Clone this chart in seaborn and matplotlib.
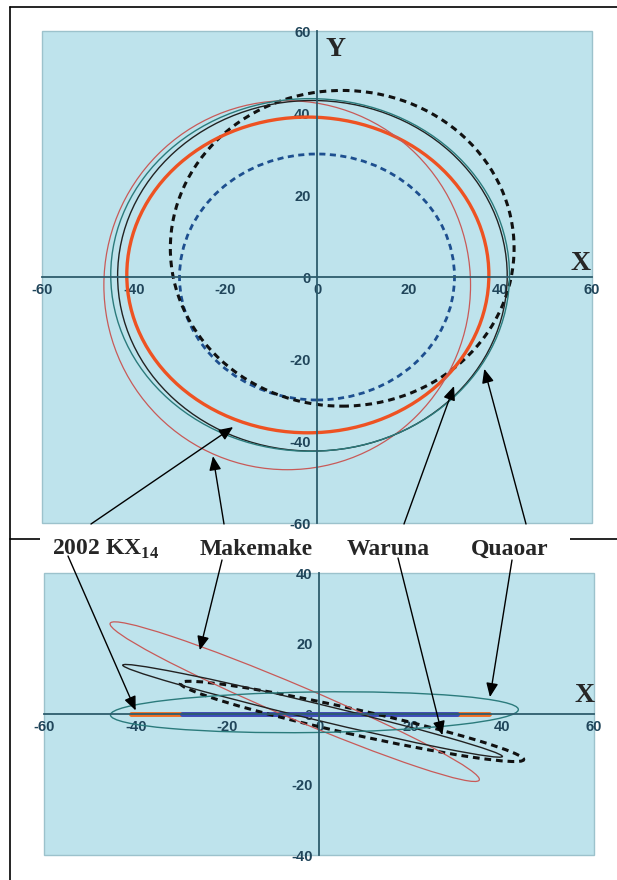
import matplotlib
matplotlib.use('Agg')
import matplotlib.pyplot as plt
from matplotlib.patches import Ellipse, Rectangle, ConnectionPatch
from matplotlib.lines import Line2D
import seaborn as sns

# orbit outlines, in AU
# top view (X-Y plane): centre, full width, full height
top_names = ['Neptune', 'Pluto', '2002 KX14', 'Makemake', 'Varuna', 'Quaoar']
top_cx = [0.0, 5.5, -2.0, -6.5, -1.0, -1.5]
top_cy = [0.0, 7.0, 0.5, -2.0, 0.3, 0.5]
top_w = [60.0, 75.0, 79.0, 80.0, 85.0, 87.0]
top_h = [60.0, 77.0, 77.0, 90.0, 85.5, 86.0]

# side view (X-Z plane): tilted narrow ellipses
side_names = ['Pluto', 'Makemake', 'Varuna', 'Quaoar']
side_cx = [7.2, -5.3, -1.4, -1.0]
side_cy = [-2.1, 3.5, 0.9, 0.5]
side_w = [78.0, 92.0, 86.8, 89.0]
side_h = [7.0, 9.0, 4.5, 11.5]
side_tilt = [-16.2, -29.0, -17.4, 1.0]

# nearly flat orbits in the side view
kx14_side_x = [-41.0, 37.0]
kx14_side_y = [0.0, 0.0]
neptune_side_x = [-30.0, 30.0]
neptune_side_y = [0.0, 0.0]

# arrow targets (data coords) for each label: top panel / bottom panel
labels = ['2002 KX$_{\\mathbf{14}}$', 'Makemake', 'Waruna', 'Quaoar']
arrow_top_x = [-18.3, -22.7, 29.9, 36.5]
arrow_top_y = [-36.6, -43.7, -26.6, -22.4]
arrow_bot_x = [-40.0, -26.0, 26.9, 37.3]
arrow_bot_y = [1.0, 18.1, -6.0, 4.8]

x_ticks = [-60, -40, -20, 0, 20, 40, 60]
top_y_ticks = [-60, -40, -20, 0, 20, 40, 60]
bot_y_ticks = [-40, -20, 0, 20, 40]

styles = {
    'Neptune':   dict(color='#1d4f8f', lw=2.0, ls=(0, (2.2, 1.6))),
    'Pluto':     dict(color='#111111', lw=2.2, ls=(0, (2.2, 1.6))),
    '2002 KX14': dict(color='#ee5222', lw=2.4, ls='-'),
    'Makemake':  dict(color='#c85a58', lw=0.9, ls='-'),
    'Varuna':    dict(color='#222222', lw=1.0, ls='-'),
    'Quaoar':    dict(color='#2b7b7c', lw=1.0, ls='-'),
}

PANEL = '#bee3ec'
AXIS = '#2d5c6c'
TICK = '#20455a'
W, H = 617, 880

sns.set_style('white')
plt.rcParams['font.family'] = ['Liberation Sans', 'DejaVu Sans']
plt.rcParams['axes.unicode_minus'] = False
plt.rcParams['mathtext.fontset'] = 'custom'
plt.rcParams['mathtext.rm'] = 'Liberation Serif'
plt.rcParams['mathtext.bf'] = 'Liberation Serif:bold'


def style_axes(ax, ylim, yticks):
    ax.set_facecolor(PANEL)
    ax.patch.set_edgecolor('#9cc2cc')
    ax.patch.set_linewidth(1.0)
    ax.set_xlim(-60, 60)
    ax.set_ylim(*ylim)
    for s in ['top', 'right']:
        ax.spines[s].set_visible(False)
    for s in ['left', 'bottom']:
        ax.spines[s].set_position('zero')
        ax.spines[s].set_color(AXIS)
        ax.spines[s].set_linewidth(1.3)
    ax.set_xticks(x_ticks)
    ax.set_yticks(yticks)
    ax.tick_params(direction='inout', length=5, width=1, color=AXIS,
                   labelcolor=TICK, labelsize=10.5, pad=2)
    for lab in ax.get_xticklabels() + ax.get_yticklabels():
        lab.set_fontweight('bold')
    ax.set_xlabel('')
    ax.set_ylabel('')


fig = plt.figure(figsize=(W / 100, H / 100), dpi=100)
ax_top = fig.add_axes([42 / W, 1 - 523 / H, 550 / W, 492 / H])
ax_bot = fig.add_axes([44 / W, 1 - 855 / H, 550 / W, 282 / H])

# top view
for name, cx, cy, w, h in zip(top_names, top_cx, top_cy, top_w, top_h):
    st = styles[name]
    ax_top.add_patch(Ellipse((cx, cy), w, h, fill=False, edgecolor=st['color'],
                             lw=st['lw'], ls=st['ls'], zorder=2))

# side view
sns.lineplot(x=kx14_side_x, y=kx14_side_y, ax=ax_bot, color='#f26d21', lw=3.5,
             sort=False, estimator=None, zorder=2)
sns.lineplot(x=neptune_side_x, y=neptune_side_y, ax=ax_bot, color='#3a4cc0', lw=3.5,
             sort=False, estimator=None, zorder=2)
for name, cx, cy, w, h, t in zip(side_names, side_cx, side_cy, side_w, side_h, side_tilt):
    st = styles[name]
    ax_bot.add_patch(Ellipse((cx, cy), w, h, angle=t, fill=False, edgecolor=st['color'],
                             lw=st['lw'], ls=st['ls'], zorder=2))

style_axes(ax_top, (-60, 60), top_y_ticks)
style_axes(ax_bot, (-40, 40), bot_y_ticks)

# axis letters
fig.text(336 / W, 1 - 49 / H, 'Y', ha='center', va='center', fontsize=20,
         fontweight='bold', family='Liberation Serif')
fig.text(581 / W, 1 - 263 / H, 'X', ha='center', va='center', fontsize=20,
         fontweight='bold', family='Liberation Serif')
fig.text(585 / W, 1 - 695 / H, 'X', ha='center', va='center', fontsize=20,
         fontweight='bold', family='Liberation Serif')

# frame lines of the composed picture
fig.add_artist(Line2D([10 / W, 10 / W], [0, 1 - 7 / H], color='black', lw=1.2, zorder=2))
fig.add_artist(Line2D([10 / W, 1], [1 - 7 / H, 1 - 7 / H], color='black', lw=1.2, zorder=2))
fig.add_artist(Line2D([10 / W, 1], [1 - 539 / H, 1 - 539 / H], color='black', lw=1.2, zorder=2))

# white label band between the two panels
fig.add_artist(Rectangle((40 / W, 1 - 567 / H), 530 / W, 38 / H, transform=fig.transFigure,
                         facecolor='white', edgecolor='none', zorder=3))

label_x = [106, 256, 388, 510]
start_top = [(91, 524), (224, 524), (404, 524), (526, 524)]
start_bot = [(68, 556), (222, 560), (398, 558), (512, 560)]

for i, txt in enumerate(labels):
    fig.text(label_x[i] / W, 1 - 549 / H, txt, ha='center', va='center', fontsize=17,
             fontweight='bold', family='Liberation Serif', zorder=6)
    for (sx, sy), ax, tx, ty in [(start_top[i], ax_top, arrow_top_x[i], arrow_top_y[i]),
                                 (start_bot[i], ax_bot, arrow_bot_x[i], arrow_bot_y[i])]:
        con = ConnectionPatch(xyA=(sx / W, 1 - sy / H), coordsA=fig.transFigure,
                              xyB=(tx, ty), coordsB=ax.transData,
                              arrowstyle='-|>,head_length=0.7,head_width=0.3',
                              mutation_scale=12, shrinkA=0, shrinkB=0,
                              color='black', lw=1.0, zorder=5)
        fig.add_artist(con)

fig.savefig('out.png', dpi=100)
